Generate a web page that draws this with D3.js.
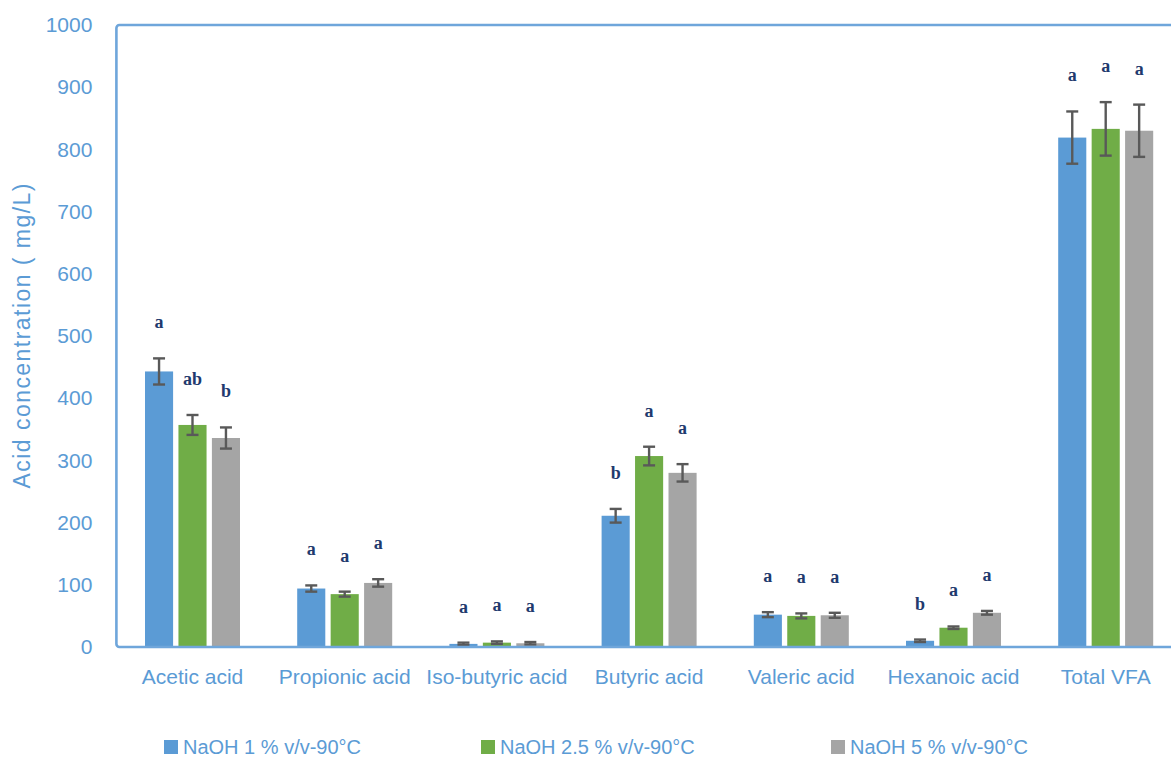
<!DOCTYPE html>
<html>
<head>
<meta charset="utf-8">
<script src="https://cdn.jsdelivr.net/npm/d3@7"></script>
<style>
  html, body { margin: 0; padding: 0; background: #ffffff; }
  svg { display: block; }
</style>
</head>
<body>
<svg id="chart" width="1171" height="760"></svg>
<script>
// Volatile fatty acid concentrations after NaOH pretreatment at 90 °C
const categories = ["Acetic acid", "Propionic acid", "Iso-butyric acid", "Butyric acid",
                    "Valeric acid", "Hexanoic acid", "Total VFA"];
const seriesNames = ["NaOH 1 % v/v-90°C", "NaOH 2.5 % v/v-90°C", "NaOH 5 % v/v-90°C"];

const naoh1     = [443, 94, 5, 211, 52, 10, 819];
const naoh1Err  = [21, 5, 2, 11, 4, 2, 42];
const naoh25    = [357, 85, 7, 307, 50, 31, 833];
const naoh25Err = [16, 4, 2, 15, 4, 2, 43];
const naoh5     = [336, 103, 6, 280, 51, 55, 830];
const naoh5Err  = [17, 6, 2, 14, 4, 3, 42];

// Significance letters above each bar
const letters1  = ["a", "a", "a", "b", "a", "b", "a"];
const letters25 = ["ab", "a", "a", "a", "a", "a", "a"];
const letters5  = ["b", "a", "a", "a", "a", "a", "a"];

const yTicks = [0, 100, 200, 300, 400, 500, 600, 700, 800, 900, 1000];
const colors = ["#5b9bd5", "#70ad47", "#a5a5a5"];

const values = [naoh1, naoh25, naoh5];
const errors = [naoh1Err, naoh25Err, naoh5Err];
const letters = [letters1, letters25, letters5];

const rows = [];
categories.forEach((c, i) => {
  seriesNames.forEach((s, j) => {
    rows.push({ cat: c, series: s, idx: j, value: values[j][i], err: errors[j][i], letter: letters[j][i] });
  });
});

const svg = d3.select("#chart");
const axisBlue = "#5b9bd5";
const fontSans = "'Liberation Sans', Arial, sans-serif";

const plot = { left: 116.4, right: 1181.8, top: 25, bottom: 647 };

const x0 = d3.scaleBand().domain(categories).range([plot.left, plot.right]).padding(0);
const x1 = d3.scaleBand().domain(seriesNames).range([-47.5, 47.5]).paddingInner(0.16).paddingOuter(0);
const y = d3.scaleLinear().domain([0, 1000]).range([plot.bottom, plot.top]);

// Bars
const g = svg.append("g");
g.selectAll("rect.bar")
  .data(rows)
  .join("rect")
  .attr("class", "bar")
  .attr("x", d => x0(d.cat) + x0.bandwidth() / 2 + x1(d.series))
  .attr("y", d => y(d.value))
  .attr("width", x1.bandwidth())
  .attr("height", d => y(0) - y(d.value))
  .attr("fill", d => colors[d.idx]);

// Error bars
const cx = d => x0(d.cat) + x0.bandwidth() / 2 + x1(d.series) + x1.bandwidth() / 2;
const eb = g.selectAll("g.err").data(rows).join("g").attr("class", "err")
  .attr("stroke", "#595959").attr("stroke-width", 2.4);
eb.append("line")
  .attr("x1", cx).attr("x2", cx)
  .attr("y1", d => y(d.value + d.err)).attr("y2", d => y(d.value - d.err));
eb.append("line")
  .attr("x1", d => cx(d) - 6).attr("x2", d => cx(d) + 6)
  .attr("y1", d => y(d.value + d.err)).attr("y2", d => y(d.value + d.err));
eb.append("line")
  .attr("x1", d => cx(d) - 6).attr("x2", d => cx(d) + 6)
  .attr("y1", d => y(d.value - d.err)).attr("y2", d => y(d.value - d.err));

// Letters
g.selectAll("text.sig").data(rows).join("text")
  .attr("class", "sig")
  .attr("x", cx)
  .attr("y", d => y(d.value + d.err) - 30)
  .attr("text-anchor", "middle")
  .attr("font-family", "'Liberation Serif', 'Times New Roman', serif")
  .attr("font-weight", "bold")
  .attr("font-size", 18)
  .attr("fill", "#1f3a6e")
  .text(d => d.letter);

// Plot frame
svg.append("rect")
  .attr("x", plot.left).attr("y", plot.top)
  .attr("width", plot.right - plot.left + 20).attr("height", plot.bottom - plot.top)
  .attr("rx", 3)
  .attr("fill", "none")
  .attr("stroke", "#6fa6db")
  .attr("stroke-width", 2.6);

// Y axis
const yAxis = svg.append("g")
  .attr("transform", `translate(${plot.left},0)`)
  .call(d3.axisLeft(y).tickValues(yTicks).tickFormat(d3.format("d")).tickSize(0).tickPadding(24));
yAxis.select(".domain").remove();
yAxis.selectAll("text")
  .attr("font-family", fontSans)
  .attr("font-size", 21)
  .attr("fill", axisBlue);

// X axis labels
const xAxis = svg.append("g")
  .attr("transform", `translate(0,${plot.bottom})`)
  .call(d3.axisBottom(x0).tickSize(0).tickPadding(22));
xAxis.select(".domain").remove();
xAxis.selectAll("text")
  .attr("font-family", fontSans)
  .attr("font-size", 21)
  .attr("fill", axisBlue);

// Y axis title
svg.append("text")
  .attr("transform", `translate(30,${(plot.top + plot.bottom) / 2}) rotate(-90)`)
  .attr("text-anchor", "middle")
  .attr("font-family", fontSans)
  .attr("font-size", 23)
  .attr("textLength", 305)
  .attr("lengthAdjust", "spacing")
  .attr("fill", axisBlue)
  .text("Acid concentration ( mg/L)");

// Legend
const legendX = [164, 481, 831];
const legend = svg.append("g");
seriesNames.forEach((s, j) => {
  legend.append("rect")
    .attr("x", legendX[j]).attr("y", 740)
    .attr("width", 14).attr("height", 14)
    .attr("fill", colors[j]);
  legend.append("text")
    .attr("x", legendX[j] + 19).attr("y", 754)
    .attr("font-family", fontSans)
    .attr("font-size", 20)
    .attr("fill", axisBlue)
    .text(s);
});
</script>
</body>
</html>
